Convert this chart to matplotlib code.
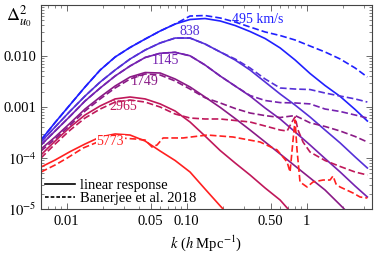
import matplotlib
matplotlib.use("Agg")
import matplotlib.pyplot as plt

plt.rcParams["font.family"] = "serif"
plt.rcParams["font.serif"] = ["Liberation Serif", "DejaVu Serif"]
plt.rcParams["mathtext.fontset"] = "stix"

# common k grid for the linear-response curves (h/Mpc)
k_lin = [0.0061, 0.008, 0.0107, 0.0142, 0.019, 0.0253, 0.0337, 0.045, 0.06, 0.08,
         0.1065, 0.142, 0.19, 0.253, 0.337, 0.45, 0.6, 0.8, 1.065, 1.42, 1.9, 2.53, 3.2]

velocities = ["495 km/s", "838", "1145", "1749", "2965", "5773"]
colors = ["#2020ff", "#5530d8", "#7522b0", "#8a1a86", "#c0185a", "#ff2020"]

# linear response (solid)
lin_495 = [2.25e-4, 4.97e-4, 1.12e-3, 2.47e-3, 5.31e-3, 9.55e-3, 0.0147, 0.0215, 0.0309, 0.0424,
           0.0520, 0.0543, 0.0486, 0.0396, 0.0302, 0.0220, 0.0144, 0.00835, 0.00454, 0.00264,
           0.00161, 8.93e-4, 5.31e-4]
lin_838 = [2.06e-4, 4.06e-4, 8.35e-4, 1.64e-3, 3.09e-3, 5.31e-3, 8.73e-3, 0.0131, 0.0180, 0.0225,
           0.0225, 0.0172, 0.0120, 8.35e-3, 5.31e-3, 3.09e-3, 1.80e-3, 1.09e-3, 6.37e-4, 3.54e-4,
           1.97e-4, 1.05e-4, 6.37e-5]
lin_1145 = [1.80e-4, 3.38e-4, 6.65e-4, 1.31e-3, 2.36e-3, 4.05e-3, 6.37e-3, 9.35e-3, 0.0113, 0.0118,
            0.0101, 6.67e-3, 4.05e-3, 2.58e-3, 1.64e-3, 9.55e-4, 5.82e-4, 3.24e-4, 1.80e-4, 9.77e-5,
            5.31e-5, 2.82e-5, 1.72e-5]
lin_1749 = [1.50e-4, 2.58e-4, 4.86e-4, 9.13e-4, 1.57e-3, 2.58e-3, 3.87e-3, 4.74e-3, 4.64e-3, 3.54e-3,
            2.47e-3, 1.57e-3, 9.82e-4, 5.95e-4, 3.54e-4, 2.06e-4, 1.20e-4, 6.97e-5, 4.06e-5, 2.36e-5,
            1.20e-5, 6.08e-6]
lin_2965 = [1.15e-4, 2.15e-4, 4.06e-4, 6.97e-4, 1.05e-3, 1.44e-3, 1.57e-3, 1.44e-3, 1.15e-3, 8.35e-4,
            5.08e-4, 2.70e-4, 1.40e-4, 7.98e-5, 4.64e-5, 2.58e-5, 1.50e-5, 6.97e-6]
lin_5773 = [6.65e-5, 9.13e-5, 1.34e-4, 1.88e-4, 2.58e-4, 2.96e-4, 2.82e-4, 2.15e-4, 1.37e-4, 8.93e-5,
            5.31e-5, 2.47e-5, 1.15e-5, 5.56e-6]

# Banerjee et al. 2018 (dashed)
ban_495 = [2.25e-4, 4.97e-4, 1.12e-3, 2.47e-3, 5.31e-3, 9.55e-3, 0.0147, 0.0215, 0.0309, 0.0424,
           0.0608, 0.0622, 0.0556, 0.0464, 0.0370, 0.0296, 0.0252, 0.0206, 0.0157, 0.0120,
           0.00873, 0.00582, 0.00387]
ban_838 = [2.06e-4, 4.06e-4, 8.35e-4, 1.64e-3, 3.09e-3, 5.31e-3, 8.73e-3, 0.0131, 0.0180, 0.0225,
           0.0225, 0.0172, 0.0120, 8.73e-3, 5.82e-3, 3.54e-3, 2.36e-3, 2.25e-3, 2.20e-3, 1.88e-3,
           1.64e-3, 1.44e-3, 1.25e-3]
ban_1145 = [1.80e-4, 3.38e-4, 6.65e-4, 1.31e-3, 2.36e-3, 4.05e-3, 6.37e-3, 9.35e-3, 0.0113, 0.0118,
            0.0101, 6.67e-3, 4.05e-3, 2.58e-3, 1.68e-3, 1.34e-3, 1.22e-3, 1.20e-3, 1.15e-3, 9.13e-4,
            8.16e-4, 6.97e-4, 6.08e-4]
ban_1749 = [1.37e-4, 2.36e-4, 4.44e-4, 8.35e-4, 1.44e-3, 2.36e-3, 3.54e-3, 4.44e-3, 4.24e-3, 3.24e-3,
            2.25e-3, 1.52e-3, 1.20e-3, 9.35e-4, 7.62e-4, 6.78e-4, 6.22e-4, 6.80e-4, 4.90e-4, 4.15e-4,
            3.38e-4, 2.64e-4, 2.06e-4]
k_ban_2965 = [0.0061, 0.008, 0.0107, 0.0142, 0.019, 0.0253, 0.0337, 0.045, 0.06, 0.08, 0.1065,
              0.142, 0.19, 0.253, 0.337, 0.45, 0.6, 0.686, 0.753, 0.799, 0.846, 0.931, 1.065,
              1.42, 1.9, 2.53, 3.2]
ban_2965 = [1.00e-4, 1.88e-4, 3.54e-4, 6.08e-4, 9.13e-4, 1.25e-3, 1.37e-3, 1.25e-3, 1.00e-3, 7.29e-4,
            6.08e-4, 5.82e-4, 5.82e-4, 5.44e-4, 5.08e-4, 4.24e-4, 3.54e-4, 3.38e-4, 5.08e-4, 6.37e-4,
            3.54e-4, 2.06e-4, 1.31e-4, 8.93e-5, 6.81e-5, 5.31e-5, 4.64e-5]
k_ban_5773 = [0.0061, 0.008, 0.0101, 0.0137, 0.019, 0.0278, 0.0371, 0.045, 0.0514, 0.0566, 0.0635,
              0.0931, 0.148, 0.243, 0.408, 0.566, 0.686, 0.726, 0.769, 0.799, 0.830, 0.879, 1.006,
              1.128, 1.368, 1.564, 1.656, 1.754, 1.895, 2.43, 2.78, 3.2]
ban_5773 = [5.31e-5, 7.29e-5, 1.00e-4, 1.57e-4, 2.15e-4, 2.47e-4, 2.36e-4, 2.25e-4, 1.64e-4, 1.80e-4,
            2.47e-4, 2.47e-4, 2.82e-4, 2.58e-4, 2.06e-4, 1.44e-4, 8.35e-5, 5.31e-5, 2.25e-4, 5.56e-4,
            1.44e-4, 3.38e-5, 2.70e-5, 3.38e-5, 3.70e-5, 3.70e-5, 4.44e-5, 3.09e-5, 2.70e-5, 2.06e-5,
            1.72e-5, 1.64e-5]

# label positions (k, Delta^2)
label_k = [0.393, 0.1065, 0.0659, 0.0449, 0.0294, 0.023]
label_d = [0.0531, 0.0296, 0.0082, 0.00318, 0.00103, 0.000206]

lin_all = [lin_495, lin_838, lin_1145, lin_1749, lin_2965, lin_5773]
ban_k = [k_lin, k_lin, k_lin, k_lin, k_ban_2965, k_ban_5773]
ban_all = [ban_495, ban_838, ban_1145, ban_1749, ban_2965, ban_5773]

fig = plt.figure(figsize=(3.74, 2.54), dpi=100)
ax = fig.add_axes([0.1096, 0.1772, 0.8851, 0.8031])

dash = (0, (4, 1.8))
for i in range(6):
    ax.plot(k_lin[:len(lin_all[i])], lin_all[i], color=colors[i], lw=1.2)
for i in range(6):
    ax.plot(ban_k[i], ban_all[i], color=colors[i], lw=1.2, linestyle=dash)
for i in range(6):
    t = ax.text(label_k[i], label_d[i], velocities[i], color=colors[i], fontsize=10,
                ha="center", va="center", zorder=5)
    if velocities[i] == "5773":
        # this label sits on top of its dashed curve
        t.set_bbox(dict(facecolor="white", edgecolor="none", pad=0.5))

ax.plot([], [], color="black", lw=1.2, label="linear response")
ax.plot([], [], color="black", lw=1.2, linestyle=(0, (2.2, 1.2)), label="Banerjee et al. 2018")
ax.legend(loc="lower left", frameon=False, fontsize=10.5, handlelength=2.1,
          handletextpad=0.3, labelspacing=0.0, borderpad=0.1, borderaxespad=0.15)

ax.set_xscale("log")
ax.set_yscale("log")
ax.set_xlim(0.0061, 3.5)
ax.set_ylim(1e-5, 0.1)

ax.set_xticks([0.01, 0.05, 0.1, 0.5, 1])
ax.set_xticklabels(["0.01", "0.05", "0.10", "0.50", "1"])
ax.set_xticks([0.007, 0.008, 0.009, 0.02, 0.03, 0.04, 0.06, 0.07, 0.08, 0.09,
               0.2, 0.3, 0.4, 0.6, 0.7, 0.8, 0.9, 2, 3], minor=True)
ax.set_xticklabels([], minor=True)
ax.set_yticks([1e-5, 1e-4, 1e-3, 1e-2])
ax.set_yticklabels([r"$10^{-5}$", r"$10^{-4}$", "0.001", "0.010"])

for s in ax.spines.values():
    s.set_color("#444444")
    s.set_linewidth(0.8)
ax.tick_params(which="both", direction="in", top=True, right=True, color="#555555",
               labelsize=10.5)
ax.tick_params(which="major", length=4, width=0.6)
ax.tick_params(which="minor", length=2, width=0.5)
ax.tick_params(axis="x", pad=4)
ax.tick_params(axis="y", pad=3)

ax.set_xlabel(r"$k$ ($h$ Mpc$^{-1}$)", fontsize=10.5, labelpad=4)
fig.text(0.015, 0.935, r"$\Delta^2_{u_0}$", fontsize=13, ha="left", va="center")

fig.savefig("out.png", dpi=100)
